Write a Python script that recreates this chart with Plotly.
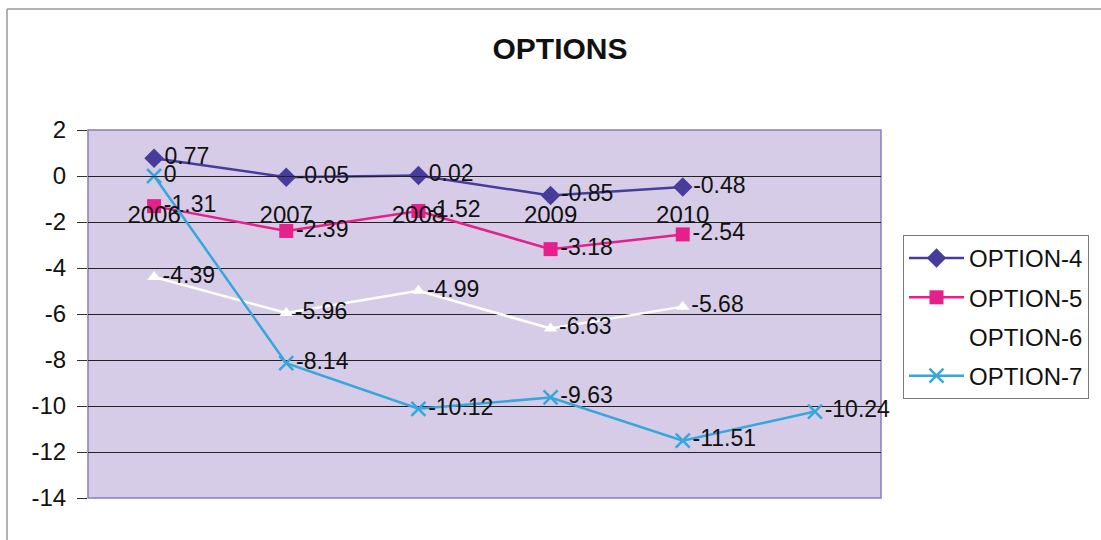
import plotly.graph_objects as go

# Category positions and their labels (the last position has no year label)
x_pos = [0, 1, 2, 3, 4, 5]
year_labels = ["2006", "2007", "2008", "2009", "2010", ""]

option4 = [0.77, -0.05, 0.02, -0.85, -0.48]
option5 = [-1.31, -2.39, -1.52, -3.18, -2.54]
option6 = [-4.39, -5.96, -4.99, -6.63, -5.68]
option7 = [0, -8.14, -10.12, -9.63, -11.51, -10.24]

y_ticks = [2, 0, -2, -4, -6, -8, -10, -12, -14]
y_tick_labels = ["2", "0", "-2", "-4", "-6", "-8", "-10", "-12", "-14"]

FONT = "Liberation Sans, Arial, sans-serif"
W, H = 1101, 540
ML, MR, MT, MB = 88, 220, 130, 42
PW, PH = W - ML - MR, H - MT - MB


def px_x(px):
    return (px - ML) / PW


def px_y(py):
    return (H - MB - py) / PH


def fmt(v):
    return f"{v:g}"


series = [
    ("OPTION-4", option4, "#473c9b", dict(symbol="diamond", size=15, color="#473c9b")),
    ("OPTION-5", option5, "#e5208b", dict(symbol="square", size=14, color="#e5208b")),
    ("OPTION-6", option6, "#ffffff", dict(symbol="triangle-up", size=12, color="#ffffff")),
    ("OPTION-7", option7, "#36a6dc",
     dict(symbol="x-thin", size=14, color="#36a6dc", line=dict(color="#36a6dc", width=2.5))),
]

fig = go.Figure()
for name, vals, color, marker in series:
    fig.add_trace(go.Scatter(
        x=x_pos[:len(vals)], y=vals, name=name, legendgroup=name,
        mode="lines+markers+text",
        line=dict(color=color, width=2.5),
        marker=marker,
        text=[fmt(v) for v in vals],
        textposition="middle right",
        textfont=dict(family=FONT, size=23, color="#111111"),
        cliponaxis=False,
    ))

shapes = [
    # plot area border
    dict(type="rect", xref="paper", yref="paper", x0=0, x1=1, y0=0, y1=1,
         line=dict(color="#8a7cc0", width=1.5), layer="below"),
    # outer chart frame (top and left edges)
    dict(type="line", xref="paper", yref="paper",
         x0=px_x(7), x1=px_x(1101), y0=px_y(9), y1=px_y(9),
         line=dict(color="#9a9a9a", width=1.5)),
    dict(type="line", xref="paper", yref="paper",
         x0=px_x(7), x1=px_x(7), y0=px_y(9), y1=px_y(540),
         line=dict(color="#9a9a9a", width=1.5)),
]

fig.update_layout(
    width=W, height=H,
    margin=dict(l=ML, r=MR, t=MT, b=MB),
    paper_bgcolor="white",
    plot_bgcolor="#d6cce7",
    font=dict(family=FONT, size=23, color="#111111"),
    title=dict(text="<b>OPTIONS</b>", x=560 / W, xanchor="center",
               y=1 - 48 / H, yanchor="middle", yref="container",
               font=dict(family=FONT, size=30, color="#111111")),
    shapes=shapes,
    legend=dict(
        x=px_x(903), y=px_y(235), xanchor="left", yanchor="top",
        bgcolor="white", bordercolor="#7a7a7a", borderwidth=1,
        font=dict(family=FONT, size=24, color="#111111"),
        itemwidth=55, tracegroupgap=5, traceorder="grouped",
    ),
    xaxis=dict(
        range=[-0.5, 5.5],
        tickmode="array", tickvals=x_pos, ticktext=year_labels,
        anchor="free", position=(0 - (-14)) / 16,
        showline=True, linecolor="#222222", linewidth=1,
        showgrid=False, zeroline=False, ticks="",
        ticklabelstandoff=17,
        tickfont=dict(family=FONT, size=24, color="#111111"),
    ),
    yaxis=dict(
        range=[-14, 2],
        tickmode="array", tickvals=y_ticks, ticktext=y_tick_labels,
        showgrid=True, gridcolor="#222222", gridwidth=1.2,
        zeroline=False, showline=False,
        ticks="outside", ticklen=10, tickcolor="#333333",
        ticklabelstandoff=6,
        tickfont=dict(family=FONT, size=24, color="#111111"),
    ),
)

fig.write_html("out.html")
